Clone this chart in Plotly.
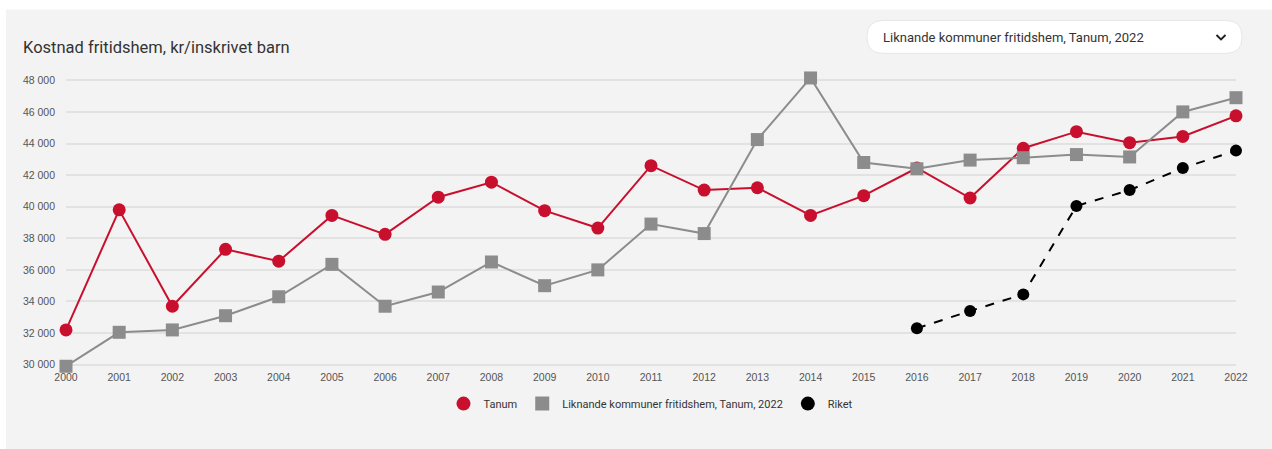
import plotly.graph_objects as go

years = list(range(2000, 2023))
tanum = [32200, 39800, 33700, 37300, 36550, 39450, 38250, 40600, 41550, 39750, 38650,
         42600, 41050, 41200, 39450, 40700, 42450, 40550, 43700, 44750, 44050, 44450, 45750]
liknande = [29900, 32050, 32200, 33100, 34300, 36350, 33700, 34600, 36500, 35000, 36000,
            38900, 38300, 44250, 48150, 42800, 42400, 42950, 43100, 43300, 43150, 46000, 46900]
riket_years = list(range(2016, 2023))
riket = [32300, 33400, 34450, 40050, 41050, 42450, 43550]
ytick_vals = list(range(30000, 48001, 2000))
ytick_text = [f"{v // 1000} 000" for v in ytick_vals]

W, H = 1272, 449
X_LEFT, X_RIGHT = 66, 1236
Y_TOP_PX, Y_BOT_PX = 80, 365  # 48000 and 30000
YMIN, YMAX = 30000, 48000
PAD = 400
ppu = (Y_BOT_PX - Y_TOP_PX) / (YMAX - YMIN)
T = Y_TOP_PX - PAD * ppu
B = H - (Y_BOT_PX + PAD * ppu)
L, R = X_LEFT, W - X_RIGHT
PW, PH = W - L - R, H - T - B


def px(x):
    return (x - L) / PW


def py(y):
    return (H - B - y) / PH


RED, GREY, BLACK = "#c8102e", "#8c8c8c", "#000000"

fig = go.Figure()
fig.add_trace(go.Scatter(x=years, y=tanum, name="Tanum", mode="lines+markers",
                         line=dict(color=RED, width=2),
                         marker=dict(symbol="circle", size=13, color=RED),
                         cliponaxis=False, showlegend=False))
fig.add_trace(go.Scatter(x=years, y=liknande, name="Liknande kommuner fritidshem, Tanum, 2022",
                         mode="lines+markers",
                         line=dict(color=GREY, width=2),
                         marker=dict(symbol="square", size=13, color=GREY),
                         cliponaxis=False, showlegend=False))
fig.add_trace(go.Scatter(x=riket_years, y=riket, name="Riket", mode="lines+markers",
                         line=dict(color=BLACK, width=2, dash="dash"),
                         marker=dict(symbol="circle", size=12, color=BLACK),
                         cliponaxis=False, showlegend=False))
for name, sym, col in [("Tanum", "circle", RED),
                       ("Liknande kommuner fritidshem, Tanum, 2022", "square", GREY),
                       ("Riket", "circle", BLACK)]:
    fig.add_trace(go.Scatter(x=[None], y=[None], name=name, mode="markers",
                             marker=dict(symbol=sym, size=14, color=col), showlegend=True))

shapes = []
shapes.append(dict(type="rect", xref="paper", yref="paper", layer="below",
                   x0=px(6), x1=px(W + 5), y0=py(H + 5), y1=py(9),
                   fillcolor="#f3f3f3", line=dict(width=0)))
x0, x1, y0, y1, r = 867, 1242, 20, 53, 16
path = (f"M {px(x0 + r)},{py(y0)} L {px(x1 - r)},{py(y0)} "
        f"Q {px(x1)},{py(y0)} {px(x1)},{py(y0 + r)} L {px(x1)},{py(y1 - r)} "
        f"Q {px(x1)},{py(y1)} {px(x1 - r)},{py(y1)} L {px(x0 + r)},{py(y1)} "
        f"Q {px(x0)},{py(y1)} {px(x0)},{py(y1 - r)} L {px(x0)},{py(y0 + r)} "
        f"Q {px(x0)},{py(y0)} {px(x0 + r)},{py(y0)} Z")
shapes.append(dict(type="path", xref="paper", yref="paper", path=path,
                   fillcolor="#ffffff", line=dict(color="#e6e6e6", width=1)))
cx, cy = 1221, 37
chev = f"M {px(cx - 4.5)},{py(cy - 2.5)} L {px(cx)},{py(cy + 2)} L {px(cx + 4.5)},{py(cy - 2.5)}"
shapes.append(dict(type="path", xref="paper", yref="paper", path=chev,
                   line=dict(color="#222222", width=2)))

annotations = [
    dict(text="Kostnad fritidshem, kr/inskrivet barn", xref="paper", yref="paper",
         x=px(21), y=py(47), xanchor="left", yanchor="middle", showarrow=False,
         font=dict(family="Roboto", size=16.5, color="#333333")),
    dict(text="Liknande kommuner fritidshem, Tanum, 2022", xref="paper", yref="paper",
         x=px(881), y=py(37), xanchor="left", yanchor="middle", showarrow=False,
         font=dict(family="Roboto", size=13, color="#333333")),
]

fig.update_layout(
    width=W, height=H,
    margin=dict(l=L, r=R, t=T, b=B),
    paper_bgcolor="#ffffff", plot_bgcolor="rgba(0,0,0,0)",
    shapes=shapes, annotations=annotations,
    showlegend=True,
    legend=dict(orientation="h", x=0.5, xanchor="center", y=py(404), yanchor="middle",
                font=dict(family="Roboto", size=11, color="#333333"),
                bgcolor="rgba(0,0,0,0)", itemwidth=30, tracegroupgap=0),
    xaxis=dict(range=[2000, 2022], tickmode="array", tickvals=years,
               ticktext=[str(y) for y in years], showgrid=False, zeroline=False,
               showline=False, ticks="", ticklen=0, ticklabelstandoff=-2,
               tickfont=dict(family="Liberation Sans, Arial", size=10.5, color="#555555")),
    yaxis=dict(range=[YMIN - PAD, YMAX + PAD], tickmode="array", tickvals=ytick_vals,
               ticktext=ytick_text, showgrid=True, gridcolor="#e2e2e2", gridwidth=1.5,
               zeroline=False, showline=False, ticks="", ticklabelstandoff=10,
               tickfont=dict(family="Liberation Sans, Arial", size=10.5, color="#555555")),
)

fig.write_html("out.html")
